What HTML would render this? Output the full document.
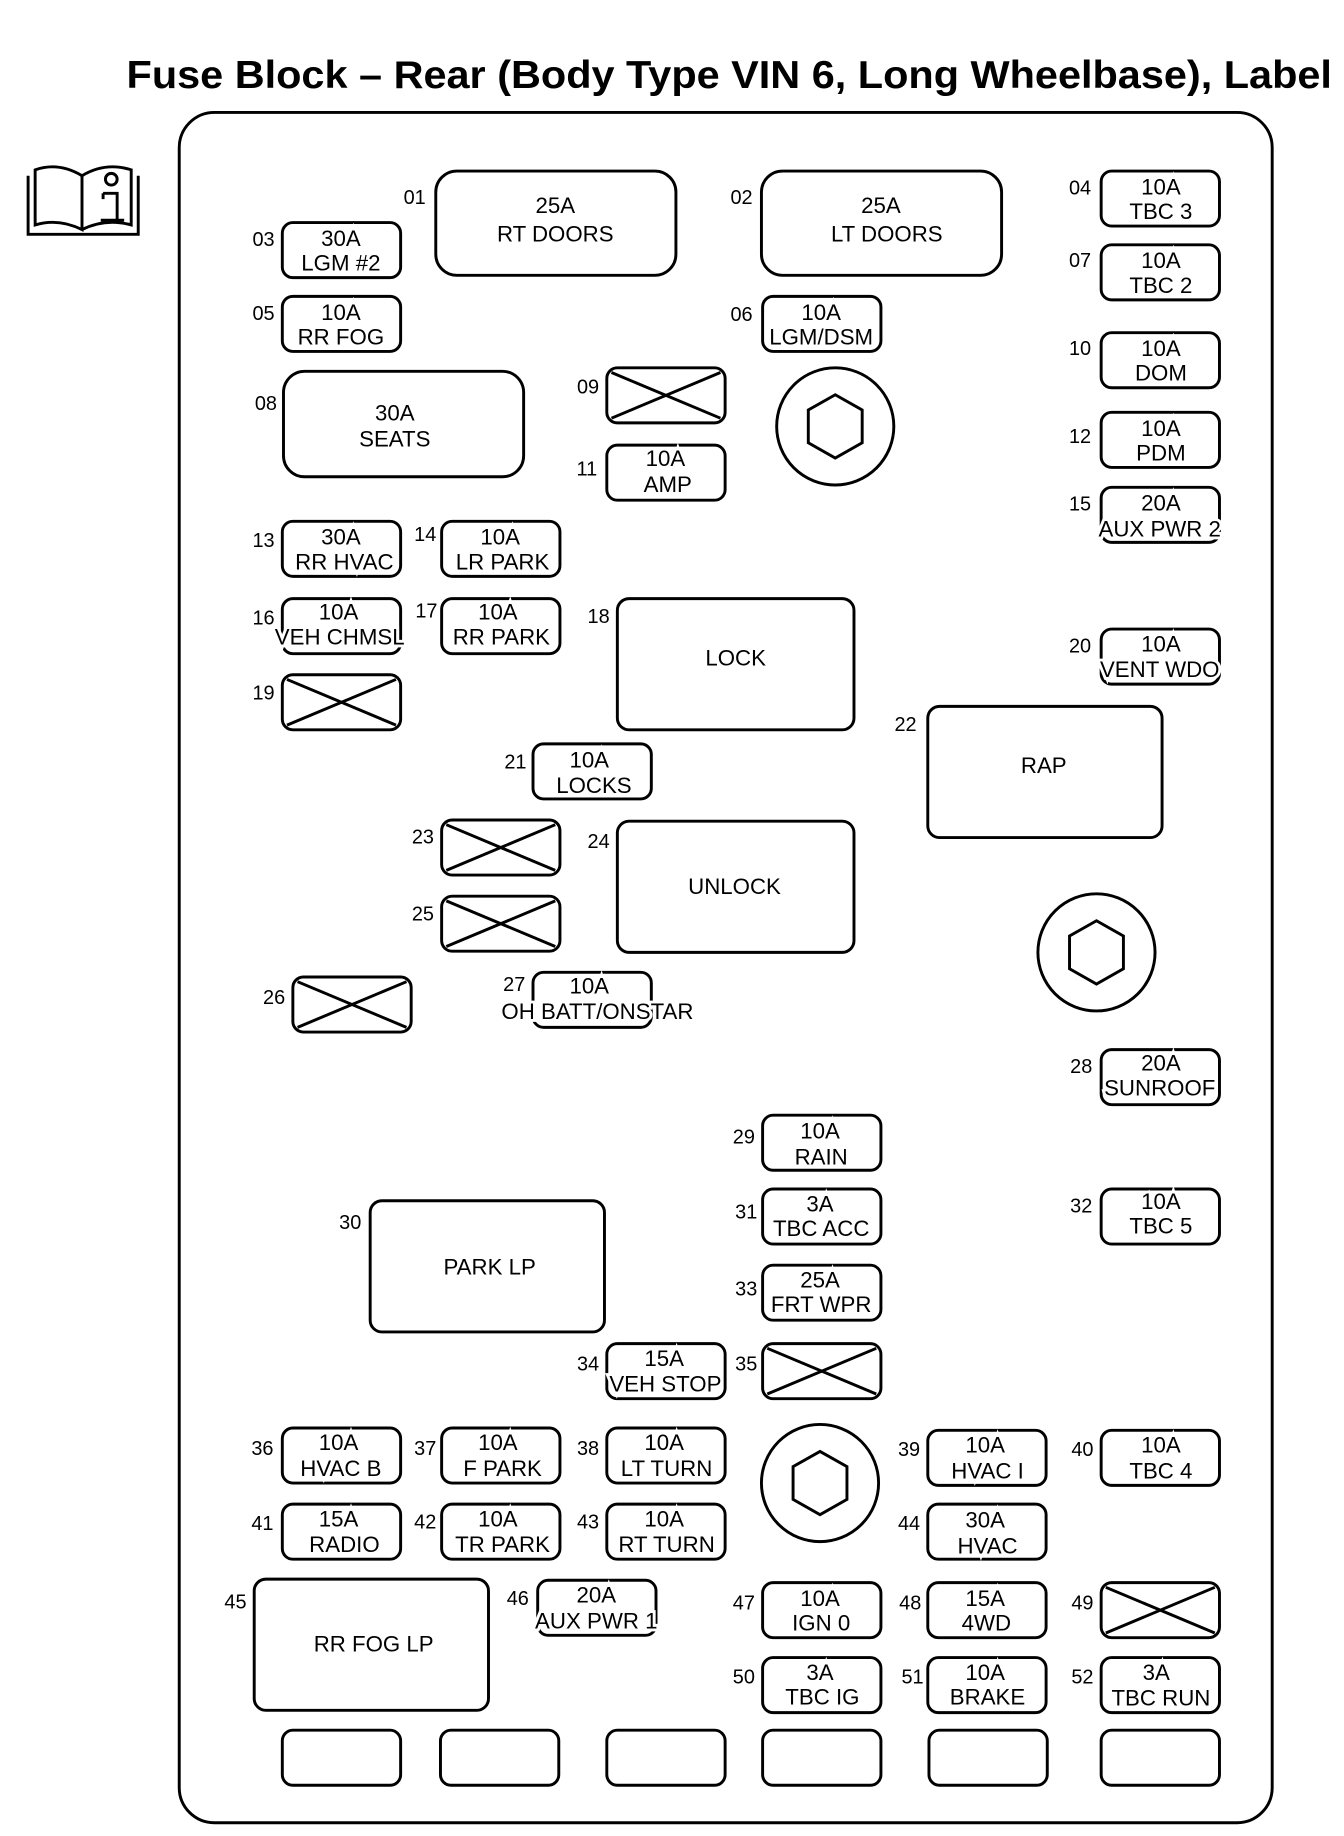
<!DOCTYPE html>
<html><head><meta charset="utf-8"><style>
html,body{margin:0;padding:0;background:#fff}
svg{display:block}
text{font-family:"Liberation Sans",Arial,sans-serif;fill:#000}
.t{font-size:19px;text-anchor:middle;stroke:#fff;stroke-width:5px;paint-order:stroke;}
.n{font-size:17px;text-anchor:middle}
rect,circle,polygon,line{fill:none;stroke:#000;stroke-width:2.5}
</style></head><body>
<svg width="1344" height="1836" viewBox="0 0 1147.3 1567.3" preserveAspectRatio="none">
<text x="108" y="75" textLength="1029" lengthAdjust="spacingAndGlyphs" style="font-size:33px;font-weight:bold">Fuse Block – Rear (Body Type VIN 6, Long Wheelbase), Label</text>
<rect x="153" y="96" width="933" height="1460" rx="30"/>
<!-- book icon -->
<g stroke="#000" stroke-width="2.5" fill="none">
<path d="M24 150 L24 200 L118 200 L118 150"/>
<path d="M30 145 Q50 138 70 150 L70 196 Q50 186 30 192 Z"/>
<path d="M70 150 Q90 138 112 145 L112 192 Q90 186 70 196"/>
<circle cx="95" cy="153" r="5"/>
<path d="M88 165 L100 165 L100 188 M86 188 L106 188 M88 165 L88 170"/>
</g>

<rect x="372" y="146" width="205" height="89" rx="18"/><text class="t" x="474" y="182">25A</text><text class="t" x="474" y="206">RT DOORS</text><text class="n" x="354" y="174">01</text>
<rect x="650" y="146" width="205" height="89" rx="18"/><text class="t" x="752" y="182">25A</text><text class="t" x="757" y="206">LT DOORS</text><text class="n" x="633" y="174">02</text>
<rect x="242" y="317" width="205" height="90" rx="18"/><text class="t" x="337" y="359">30A</text><text class="t" x="337" y="381">SEATS</text><text class="n" x="227" y="350">08</text>
<rect x="527" y="511" width="202" height="112" rx="10"/><text class="t" x="628" y="568">LOCK</text><text class="n" x="511" y="532">18</text>
<rect x="792" y="603" width="200" height="112" rx="10"/><text class="t" x="891" y="660">RAP</text><text class="n" x="773" y="624">22</text>
<rect x="527" y="701" width="202" height="112" rx="10"/><text class="t" x="627" y="763">UNLOCK</text><text class="n" x="511" y="724">24</text>
<rect x="316" y="1025" width="200" height="112" rx="10"/><text class="t" x="418" y="1088">PARK LP</text><text class="n" x="299" y="1049">30</text>
<rect x="217" y="1348" width="200" height="112" rx="10"/><text class="t" x="319" y="1410">RR FOG LP</text><text class="n" x="201" y="1373">45</text>

<circle cx="713" cy="364" r="50"/><polygon points="713,337 736,350 736,378 713,391 690,378 690,350"/>
<circle cx="936" cy="813" r="50"/><polygon points="936,786 959,799 959,827 936,840 913,827 913,799"/>
<circle cx="700" cy="1266" r="50"/><polygon points="700,1239 723,1252 723,1280 700,1293 677,1280 677,1252"/>

<rect x="241" y="190" width="101" height="47" rx="9"/><text class="t" x="291" y="210">30A</text><text class="t" x="291" y="231">LGM #2</text><text class="n" x="225" y="210">03</text>
<rect x="940" y="146" width="101" height="47" rx="9"/><text class="t" x="991" y="166">10A</text><text class="t" x="991" y="187">TBC 3</text><text class="n" x="922" y="166">04</text>
<rect x="241" y="253" width="101" height="47" rx="9"/><text class="t" x="291" y="273">10A</text><text class="t" x="291" y="294">RR FOG</text><text class="n" x="225" y="273">05</text>
<rect x="651" y="253" width="101" height="47" rx="9"/><text class="t" x="701" y="273">10A</text><text class="t" x="701" y="294">LGM/DSM</text><text class="n" x="633" y="274">06</text>
<rect x="940" y="209" width="101" height="47" rx="9"/><text class="t" x="991" y="229">10A</text><text class="t" x="991" y="250">TBC 2</text><text class="n" x="922" y="228">07</text>
<rect x="518" y="314" width="101" height="47" rx="9"/><line x1="522" y1="318" x2="615" y2="357"/><line x1="522" y1="357" x2="615" y2="318"/><text class="n" x="502" y="336">09</text>
<rect x="940" y="284" width="101" height="47" rx="9"/><text class="t" x="991" y="304">10A</text><text class="t" x="991" y="325">DOM</text><text class="n" x="922" y="303">10</text>
<rect x="518" y="380" width="101" height="47" rx="9"/><text class="t" x="568" y="398">10A</text><text class="t" x="570" y="420">AMP</text><text class="n" x="501" y="406">11</text>
<rect x="940" y="352" width="101" height="47" rx="9"/><text class="t" x="991" y="372">10A</text><text class="t" x="991" y="393">PDM</text><text class="n" x="922" y="378">12</text>
<rect x="241" y="445" width="101" height="47" rx="9"/><text class="t" x="291" y="465">30A</text><text class="t" x="294" y="486">RR HVAC</text><text class="n" x="225" y="467">13</text>
<rect x="377" y="445" width="101" height="47" rx="9"/><text class="t" x="427" y="465">10A</text><text class="t" x="429" y="486">LR PARK</text><text class="n" x="363" y="462">14</text>
<rect x="940" y="416" width="101" height="47" rx="9"/><text class="t" x="991" y="436">20A</text><text class="t" x="990" y="458">AUX PWR 2</text><text class="n" x="922" y="436">15</text>
<rect x="241" y="511" width="101" height="47" rx="9"/><text class="t" x="289" y="529">10A</text><text class="t" x="290" y="550">VEH CHMSL</text><text class="n" x="225" y="533">16</text>
<rect x="377" y="511" width="101" height="47" rx="9"/><text class="t" x="425" y="529">10A</text><text class="t" x="428" y="550">RR PARK</text><text class="n" x="364" y="527">17</text>
<rect x="241" y="576" width="101" height="47" rx="9"/><line x1="245" y1="580" x2="338" y2="619"/><line x1="245" y1="619" x2="338" y2="580"/><text class="n" x="225" y="597">19</text>
<rect x="940" y="537" width="101" height="47" rx="9"/><text class="t" x="991" y="556">10A</text><text class="t" x="990" y="578">VENT WDO</text><text class="n" x="922" y="557">20</text>
<rect x="455" y="635" width="101" height="47" rx="9"/><text class="t" x="503" y="655">10A</text><text class="t" x="507" y="677">LOCKS</text><text class="n" x="440" y="656">21</text>
<rect x="377" y="700" width="101" height="47" rx="9"/><line x1="381" y1="704" x2="474" y2="743"/><line x1="381" y1="743" x2="474" y2="704"/><text class="n" x="361" y="720">23</text>
<rect x="377" y="765" width="101" height="47" rx="9"/><line x1="381" y1="769" x2="474" y2="808"/><line x1="381" y1="808" x2="474" y2="769"/><text class="n" x="361" y="786">25</text>
<rect x="250" y="834" width="101" height="47" rx="9"/><line x1="254" y1="838" x2="347" y2="877"/><line x1="254" y1="877" x2="347" y2="838"/><text class="n" x="234" y="857">26</text>
<rect x="455" y="830" width="101" height="47" rx="9"/><text class="t" x="503" y="848">10A</text><text class="t" x="510" y="870">OH BATT/ONSTAR</text><text class="n" x="439" y="846">27</text>
<rect x="940" y="896" width="101" height="47" rx="9"/><text class="t" x="991" y="914">20A</text><text class="t" x="990" y="935">SUNROOF</text><text class="n" x="923" y="916">28</text>
<rect x="651" y="952" width="101" height="47" rx="9"/><text class="t" x="700" y="972">10A</text><text class="t" x="701" y="994">RAIN</text><text class="n" x="635" y="976">29</text>
<rect x="651" y="1015" width="101" height="47" rx="9"/><text class="t" x="700" y="1034">3A</text><text class="t" x="701" y="1055">TBC ACC</text><text class="n" x="637" y="1040">31</text>
<rect x="940" y="1015" width="101" height="47" rx="9"/><text class="t" x="991" y="1032">10A</text><text class="t" x="991" y="1053">TBC 5</text><text class="n" x="923" y="1035">32</text>
<rect x="651" y="1080" width="101" height="47" rx="9"/><text class="t" x="700" y="1099">25A</text><text class="t" x="701" y="1120">FRT WPR</text><text class="n" x="637" y="1106">33</text>
<rect x="518" y="1147" width="101" height="47" rx="9"/><text class="t" x="567" y="1166">15A</text><text class="t" x="568" y="1188">VEH STOP</text><text class="n" x="502" y="1170">34</text>
<rect x="651" y="1147" width="101" height="47" rx="9"/><line x1="655" y1="1151" x2="748" y2="1190"/><line x1="655" y1="1190" x2="748" y2="1151"/><text class="n" x="637" y="1170">35</text>
<rect x="241" y="1219" width="101" height="47" rx="9"/><text class="t" x="289" y="1238">10A</text><text class="t" x="291" y="1260">HVAC B</text><text class="n" x="224" y="1242">36</text>
<rect x="377" y="1219" width="101" height="47" rx="9"/><text class="t" x="425" y="1238">10A</text><text class="t" x="429" y="1260">F PARK</text><text class="n" x="363" y="1242">37</text>
<rect x="518" y="1219" width="101" height="47" rx="9"/><text class="t" x="567" y="1238">10A</text><text class="t" x="569" y="1260">LT TURN</text><text class="n" x="502" y="1242">38</text>
<rect x="792" y="1221" width="101" height="47" rx="9"/><text class="t" x="841" y="1240">10A</text><text class="t" x="843" y="1262">HVAC I</text><text class="n" x="776" y="1243">39</text>
<rect x="940" y="1221" width="101" height="47" rx="9"/><text class="t" x="991" y="1240">10A</text><text class="t" x="991" y="1262">TBC 4</text><text class="n" x="924" y="1243">40</text>
<rect x="241" y="1284" width="101" height="47" rx="9"/><text class="t" x="289" y="1303">15A</text><text class="t" x="294" y="1325">RADIO</text><text class="n" x="224" y="1306">41</text>
<rect x="377" y="1284" width="101" height="47" rx="9"/><text class="t" x="425" y="1303">10A</text><text class="t" x="429" y="1325">TR PARK</text><text class="n" x="363" y="1305">42</text>
<rect x="518" y="1284" width="101" height="47" rx="9"/><text class="t" x="567" y="1303">10A</text><text class="t" x="569" y="1325">RT TURN</text><text class="n" x="502" y="1305">43</text>
<rect x="792" y="1284" width="101" height="47" rx="9"/><text class="t" x="841" y="1304">30A</text><text class="t" x="843" y="1326">HVAC</text><text class="n" x="776" y="1306">44</text>
<rect x="459" y="1349" width="101" height="47" rx="9"/><text class="t" x="509" y="1368">20A</text><text class="t" x="509" y="1390">AUX PWR 1</text><text class="n" x="442" y="1370">46</text>
<rect x="651" y="1351" width="101" height="47" rx="9"/><text class="t" x="700" y="1371">10A</text><text class="t" x="701" y="1392">IGN 0</text><text class="n" x="635" y="1374">47</text>
<rect x="792" y="1351" width="101" height="47" rx="9"/><text class="t" x="841" y="1371">15A</text><text class="t" x="842" y="1392">4WD</text><text class="n" x="777" y="1374">48</text>
<rect x="940" y="1351" width="101" height="47" rx="9"/><line x1="944" y1="1355" x2="1037" y2="1394"/><line x1="944" y1="1394" x2="1037" y2="1355"/><text class="n" x="924" y="1374">49</text>
<rect x="651" y="1415" width="101" height="47" rx="9"/><text class="t" x="700" y="1434">3A</text><text class="t" x="702" y="1455">TBC IG</text><text class="n" x="635" y="1437">50</text>
<rect x="792" y="1415" width="101" height="47" rx="9"/><text class="t" x="841" y="1434">10A</text><text class="t" x="843" y="1455">BRAKE</text><text class="n" x="779" y="1437">51</text>
<rect x="940" y="1415" width="101" height="47" rx="9"/><text class="t" x="987" y="1434">3A</text><text class="t" x="991" y="1456">TBC RUN</text><text class="n" x="924" y="1437">52</text>

<rect x="241" y="1477" width="101" height="47" rx="9"/>
<rect x="376" y="1477" width="101" height="47" rx="9"/>
<rect x="518" y="1477" width="101" height="47" rx="9"/>
<rect x="651" y="1477" width="101" height="47" rx="9"/>
<rect x="793" y="1477" width="101" height="47" rx="9"/>
<rect x="940" y="1477" width="101" height="47" rx="9"/>
</svg>
</body></html>
